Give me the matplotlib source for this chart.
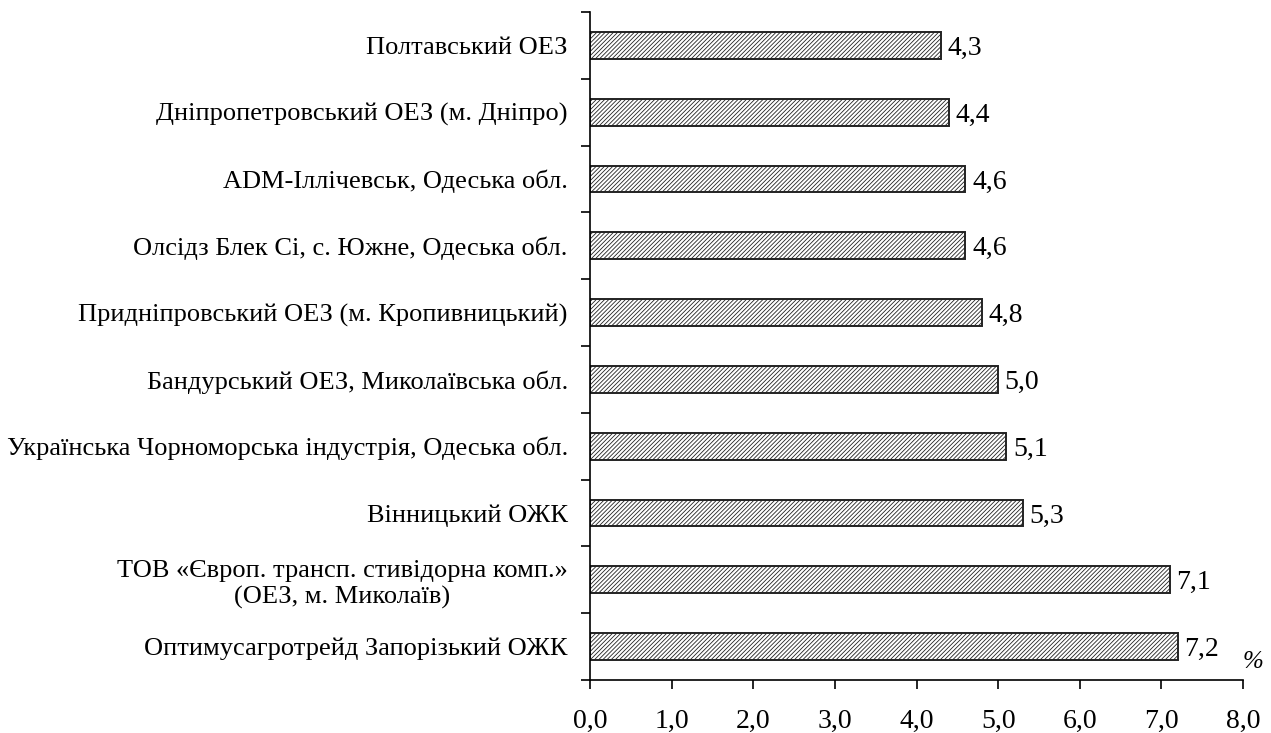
import matplotlib
matplotlib.use("Agg")
import matplotlib.pyplot as plt
import numpy as np

plt.rcParams['font.family'] = ['Liberation Serif', 'DejaVu Serif']
plt.rcParams['hatch.linewidth'] = 0.6

names = [
    "Полтавський ОЕЗ",
    "Дніпропетровський ОЕЗ (м. Дніпро)",
    "ADM-Іллічевськ, Одеська обл.",
    "Олсідз Блек Сі, с. Южне, Одеська обл.",
    "Придніпровський ОЕЗ (м. Кропивницький)",
    "Бандурський ОЕЗ, Миколаївська обл.",
    "Українська Чорноморська індустрія, Одеська обл.",
    "Вінницький ОЖК",
    "ТОВ «Європ. трансп. стивідорна комп.»\n(ОЕЗ, м. Миколаїв)",
    "Оптимусагротрейд Запорізький ОЖК",
]
values = [4.3, 4.4, 4.6, 4.6, 4.8, 5.0, 5.1, 5.3, 7.1, 7.2]
xticks = [0, 1, 2, 3, 4, 5, 6, 7, 8]

fig = plt.figure(figsize=(12.71, 7.33), dpi=100)
ax = fig.add_axes([0.4642, 0.0723, 0.978 - 0.4642, 0.9836 - 0.0723])

pos = np.arange(len(names))
ax.barh(pos, values, height=0.4, color='white', edgecolor='#222222',
        hatch='////////', linewidth=1.4)
for p, v in zip(pos, values):
    ax.text(v + 0.08, p, f"{v:.1f}".replace('.', ','), va='center_baseline',
            ha='left', fontsize=20)

ax.set_ylim(len(names) - 0.5, -0.5)
ax.set_xlim(0, 8)
ax.set_yticks(pos)
ax.set_yticklabels(names, fontsize=19, multialignment='center',
                   verticalalignment='center_baseline')
ax.set_yticks(np.arange(len(names) + 1) - 0.5, minor=True)
ax.tick_params(axis='y', which='major', length=0, pad=16)
ax.tick_params(axis='y', which='minor', length=9 * 0.72, width=1.2)
ax.set_xticks(xticks)
ax.set_xticklabels([f"{t:.1f}".replace('.', ',') for t in xticks], fontsize=20)
ax.tick_params(axis='x', length=9 * 0.72, width=1.2, pad=14)

for s in ['top', 'right']:
    ax.spines[s].set_visible(False)
for s in ['left', 'bottom']:
    ax.spines[s].set_linewidth(1.2)

ax.text(1.0, 0.027, "%", transform=ax.transAxes, fontsize=18, style='italic',
        ha='left', va='center')

fig.savefig("out.png", dpi=100)
